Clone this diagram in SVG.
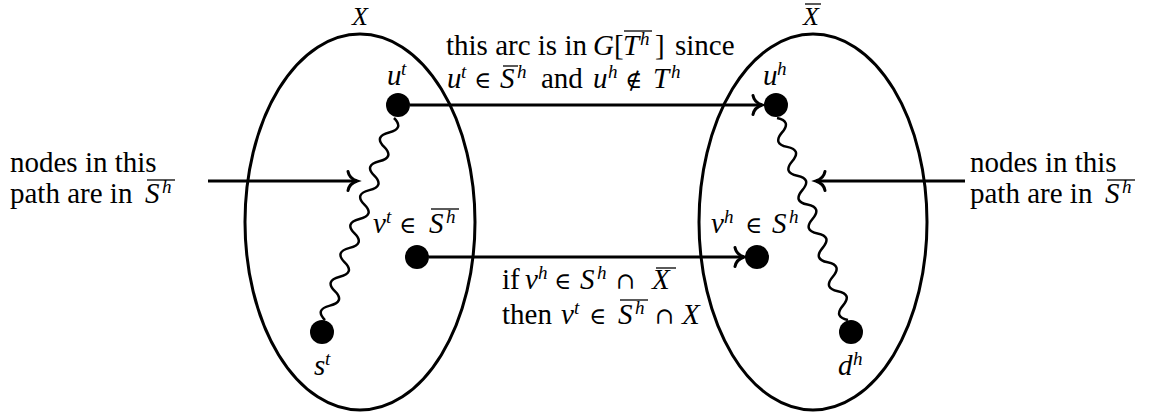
<svg xmlns="http://www.w3.org/2000/svg" width="1149" height="416" viewBox="0 0 1149 416">
<style>
.e{fill:none;stroke:#000;stroke-width:3}
.n{fill:#000}
.c{fill:none;stroke:#000;stroke-width:3}
.w{fill:none;stroke:#000;stroke-width:2.5;stroke-linejoin:round}
text{font-family:'Liberation Serif','Times New Roman',serif;font-size:29px;fill:#000}
.i{font-style:italic}
.s{font-size:19px}
.lab{font-size:26px}
.m{font-family:'DejaVu Serif',serif;font-size:23px;font-style:normal}
.ol{stroke:#000;stroke-width:1.3;fill:none}
</style>
<defs>
<marker id="to" markerUnits="userSpaceOnUse" viewBox="-12 -12 16 24" markerWidth="16" markerHeight="24" refX="0" refY="0" orient="auto" overflow="visible">
<path d="M-9,-9.5 C-8,-4 -3,-1 0,0 C-3,1 -8,4 -9,9.5" fill="none" stroke="#000" stroke-width="3" stroke-linecap="round"/>
</marker>
</defs>

<g id="set-X">
<ellipse class="e" cx="360" cy="222" rx="115" ry="188"/>
<text class="i lab" x="360" y="25" text-anchor="middle" font-family="Liberation Serif, serif">X</text>
</g>
<g id="set-Xbar">
<ellipse class="e" cx="813" cy="222" rx="114" ry="188"/>
<text class="i lab" x="811" y="25" text-anchor="middle" font-family="Liberation Serif, serif">X</text>
<line class="ol" x1="805" y1="4" x2="821" y2="4"/>
</g>

<g id="connectors">
<path class="c" d="M410 105 H762" marker-end="url(#to)"/>
<path class="c" d="M429 257 H744" marker-end="url(#to)"/>
<path class="c" d="M208 181 H357" marker-end="url(#to)"/>
<path class="c" d="M965 181 H816" marker-end="url(#to)"/>
<path class="w" d="M394 118 q10.51 10.52 -4.93 14.43 t-4.93 14.43 t-4.93 14.43 t-4.93 14.43 t-4.93 14.43 t-4.93 14.43 t-4.93 14.43 t-4.93 14.43 t-4.93 14.43 t-4.93 14.43 t-4.93 14.43 t-4.93 14.43 t-4.93 14.43 t-4.93 14.43"/>
<path class="w" d="M777 118 q14.80 2.91 5.07 14.43 t5.07 14.43 t5.07 14.43 t5.07 14.43 t5.07 14.43 t5.07 14.43 t5.07 14.43 t5.07 14.43 t5.07 14.43 t5.07 14.43 t5.07 14.43 t5.07 14.43 t5.07 14.43 t5.07 14.43"/>
</g>

<g id="node-ut" font-family="Liberation Serif, serif">
<circle class="n" cx="398" cy="105" r="12"/>
<text><tspan class="i" x="387" y="85">u</tspan><tspan class="i s" x="401" y="75">t</tspan></text>
</g>
<g id="node-vt" font-family="Liberation Serif, serif">
<circle class="n" cx="417" cy="257" r="12"/>
<text><tspan class="i" x="373" y="233">v</tspan><tspan class="i s" x="386" y="223">t</tspan><tspan class="m" x="399" y="233">∈</tspan><tspan class="i" x="429" y="233">S</tspan><tspan class="i s" x="446" y="223">h</tspan></text>
<line class="ol" x1="431" y1="209" x2="459" y2="209"/>
</g>
<g id="node-st" font-family="Liberation Serif, serif">
<circle class="n" cx="322" cy="332" r="12"/>
<text><tspan class="i" x="314" y="375">s</tspan><tspan class="i s" x="325" y="365">t</tspan></text>
</g>
<g id="node-uh" font-family="Liberation Serif, serif">
<circle class="n" cx="776" cy="105" r="12"/>
<text><tspan class="i" x="763" y="85">u</tspan><tspan class="i s" x="777" y="75">h</tspan></text>
</g>
<g id="node-vh" font-family="Liberation Serif, serif">
<circle class="n" cx="757" cy="257" r="12"/>
<text><tspan class="i" x="711" y="233">v</tspan><tspan class="i s" x="724" y="223">h</tspan><tspan class="m" x="745" y="233">∈</tspan><tspan class="i" x="772" y="233">S</tspan><tspan class="i s" x="789" y="223">h</tspan></text>
</g>
<g id="node-dh" font-family="Liberation Serif, serif">
<circle class="n" cx="851" cy="332" r="12"/>
<text><tspan class="i" x="838" y="375">d</tspan><tspan class="i s" x="853" y="365">h</tspan></text>
</g>

<g id="label-top" font-family="Liberation Serif, serif">
<text><tspan x="446" y="55">this arc is in</tspan><tspan class="i" x="593" y="55">G</tspan><tspan x="614" y="55">[</tspan><tspan class="i" x="623" y="55">T</tspan><tspan class="i s" x="640" y="45">h</tspan><tspan x="655" y="55">]</tspan><tspan x="675" y="55">since</tspan></text>
<line class="ol" x1="624" y1="31" x2="652" y2="31"/>
<text><tspan class="i" x="447" y="88">u</tspan><tspan class="i s" x="461" y="78">t</tspan><tspan class="m" x="474" y="88">∈</tspan><tspan class="i" x="500" y="88">S</tspan><tspan class="i s" x="517" y="78">h</tspan><tspan x="541" y="88">and</tspan><tspan class="i" x="593" y="88">u</tspan><tspan class="i s" x="608" y="78">h</tspan><tspan class="m" x="625" y="88">∉</tspan><tspan class="i" x="653" y="88">T</tspan><tspan class="i s" x="671" y="78">h</tspan></text>
<line class="ol" x1="503" y1="66" x2="518" y2="66"/>
</g>

<g id="label-left" font-family="Liberation Serif, serif">
<text><tspan x="10" y="172">nodes in this</tspan><tspan x="10" y="203">path are in</tspan><tspan class="i" x="145" y="203">S</tspan><tspan class="i s" x="162" y="193">h</tspan></text>
<line class="ol" x1="147" y1="180" x2="175" y2="180"/>
</g>
<g id="label-right" font-family="Liberation Serif, serif">
<text><tspan x="970" y="172">nodes in this</tspan><tspan x="970" y="203">path are in</tspan><tspan class="i" x="1105" y="203">S</tspan><tspan class="i s" x="1122" y="193">h</tspan></text>
<line class="ol" x1="1107" y1="180" x2="1135" y2="180"/>
</g>

<g id="label-bottom" font-family="Liberation Serif, serif">
<text><tspan x="502" y="289">if</tspan><tspan class="i" x="525" y="289">v</tspan><tspan class="i s" x="538" y="279">h</tspan><tspan class="m" x="554" y="289">∈</tspan><tspan class="i" x="580" y="289">S</tspan><tspan class="i s" x="597" y="279">h</tspan><tspan class="m" x="616" y="289">∩</tspan><tspan class="i" x="652" y="289">X</tspan></text>
<line class="ol" x1="656" y1="268" x2="676" y2="268"/>
<text><tspan x="502" y="324">then</tspan><tspan class="i" x="561" y="324">v</tspan><tspan class="i s" x="574" y="314">t</tspan><tspan class="m" x="589" y="324">∈</tspan><tspan class="i" x="618" y="324">S</tspan><tspan class="i s" x="635" y="314">h</tspan><tspan class="m" x="655" y="324">∩</tspan><tspan class="i" x="682" y="324">X</tspan></text>
<line class="ol" x1="620" y1="300" x2="648" y2="300"/>
</g>
</svg>
